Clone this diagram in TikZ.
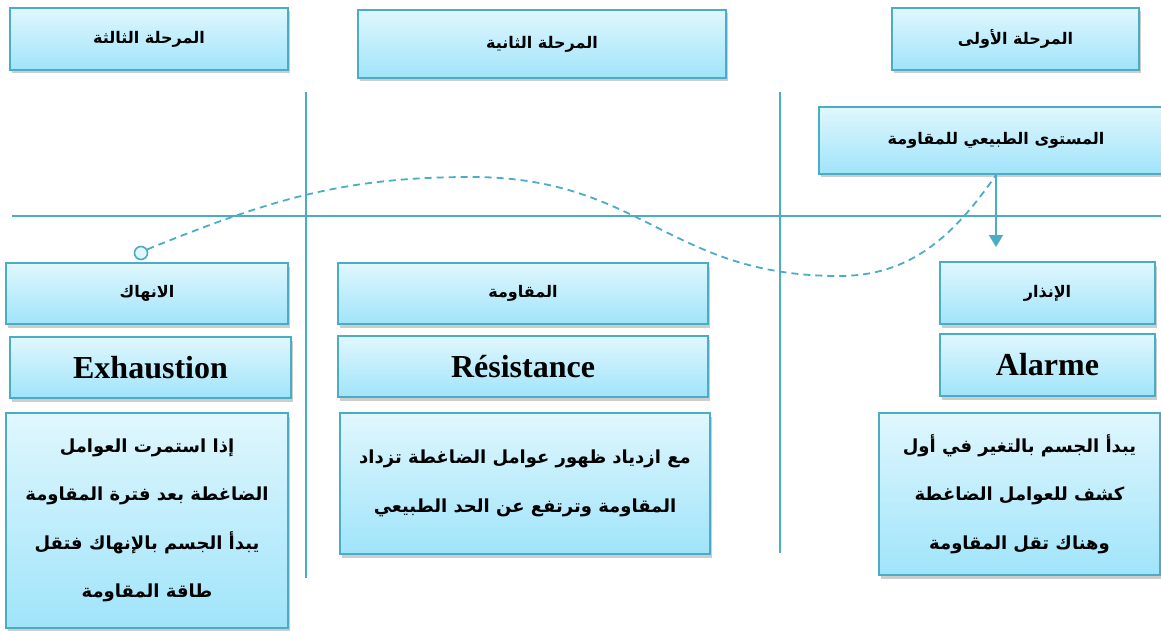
\documentclass[tikz,border=0pt]{standalone}
\usepackage{fontspec}
\setmainfont{Liberation Serif}
\newfontfamily\arabicfont[Script=Arabic]{DejaVu Sans}
\TeXXeTstate=1
\usetikzlibrary{arrows.meta,shadows}
\definecolor{bxline}{RGB}{75,172,198}
\definecolor{bxtop}{RGB}{224,247,253}
\definecolor{bxbot}{RGB}{160,228,250}
\tikzset{
  bx/.style={draw=bxline, line width=2.2pt, top color=bxtop, bottom color=bxbot,
    inner sep=0pt, align=center,
    drop shadow={shadow xshift=1.5pt, shadow yshift=-3.5pt, opacity=0.28, fill=black!70}},
  hd/.style={bx, font=\arabicfont\bfseries\fontsize{16}{20}\selectfont},
  lat/.style={bx, font=\bfseries\fontsize{32}{36}\selectfont},
  bodytxt/.style={bx, font=\arabicfont\bfseries\fontsize{18}{48.5}\selectfont},
  axis/.style={draw=bxline, line width=1.6pt},
  dashline/.style={draw=bxline, line width=1.8pt, dash pattern=on 7pt off 5pt},
}
\newcommand{\ar}[1]{\beginR #1\endR}
\begin{document}
\begin{tikzpicture}[x=1pt,y=-1pt]
\useasboundingbox (0,0) rectangle (1161,631);
% axes
\coordinate (hl) at (12,216);
\coordinate (hr) at (1175,216);
\coordinate (v1t) at (306,92);
\coordinate (v1b) at (306,578);
\coordinate (v2t) at (780,92);
\coordinate (v2b) at (780,553);
\draw[axis] (hl) -- (hr);
\draw[axis] (v1t) -- (v1b);
\draw[axis] (v2t) -- (v2b);
% header boxes
\node[hd, minimum width=278pt, minimum height=62pt] (h3) at (149,39) {\ar{المرحلة الثالثة}};
\node[hd, minimum width=368pt, minimum height=68pt] (h2) at (542,44) {\ar{المرحلة الثانية}};
\node[hd, minimum width=247pt, minimum height=62pt] (h1) at (1015.5,39) {\ar{المرحلة الأولى}};
\node[hd, minimum width=354pt, minimum height=67pt] (lvl) at (996,140.5) {\ar{المستوى الطبيعي للمقاومة}};
% column 3
\node[hd, minimum width=282pt, minimum height=61pt] (a3) at (147,293.5) {\ar{الانهاك}};
\node[lat, minimum width=281pt, minimum height=61pt] (b3) at (150.5,367.5) {Exhaustion};
\node[bodytxt, minimum width=282pt, minimum height=215pt] (c3) at (147,520.5)
  {\ar{إذا استمرت العوامل}\\ \ar{الضاغطة بعد فترة المقاومة}\\ \ar{يبدأ الجسم بالإنهاك فتقل}\\ \ar{طاقة المقاومة}};
% column 2
\node[hd, minimum width=370pt, minimum height=61pt] (a2) at (523,293.5) {\ar{المقاومة}};
\node[lat, minimum width=370pt, minimum height=61pt] (b2) at (523,366.5) {Résistance};
\node[bodytxt, minimum width=370pt, minimum height=141pt] (c2) at (525,483.5)
  {\ar{مع ازدياد ظهور عوامل الضاغطة تزداد}\\ \ar{المقاومة وترتفع عن الحد الطبيعي}};
% column 1
\node[hd, minimum width=215pt, minimum height=62pt] (a1) at (1047.5,293) {\ar{الإنذار}};
\node[lat, minimum width=215pt, minimum height=62pt] (b1) at (1047.5,365) {Alarme};
\node[bodytxt, minimum width=281pt, minimum height=162pt] (c1) at (1019.5,494)
  {\ar{يبدأ الجسم بالتغير في أول}\\ \ar{كشف للعوامل الضاغطة}\\ \ar{وهناك تقل المقاومة}};
% arrow
\coordinate (arrend) at (996,247);
\draw[draw=bxline, line width=1.8pt, -{Triangle[width=14pt,length=12pt]}, color=bxline] (lvl.south) -- (arrend);
% dashed curve
\node[circle, draw=bxline, line width=1.6pt, fill=bxtop, minimum size=13pt, inner sep=0pt] (circ) at (141,253) {};
\coordinate (peak) at (471,177);
\coordinate (trough) at (839,276);
\draw[dashline] (circ.30) to[out=22,in=180] (peak) to[out=0,in=180,looseness=1.15] (trough) to[out=0,in=235] (lvl.south);
\end{tikzpicture}
\end{document}
